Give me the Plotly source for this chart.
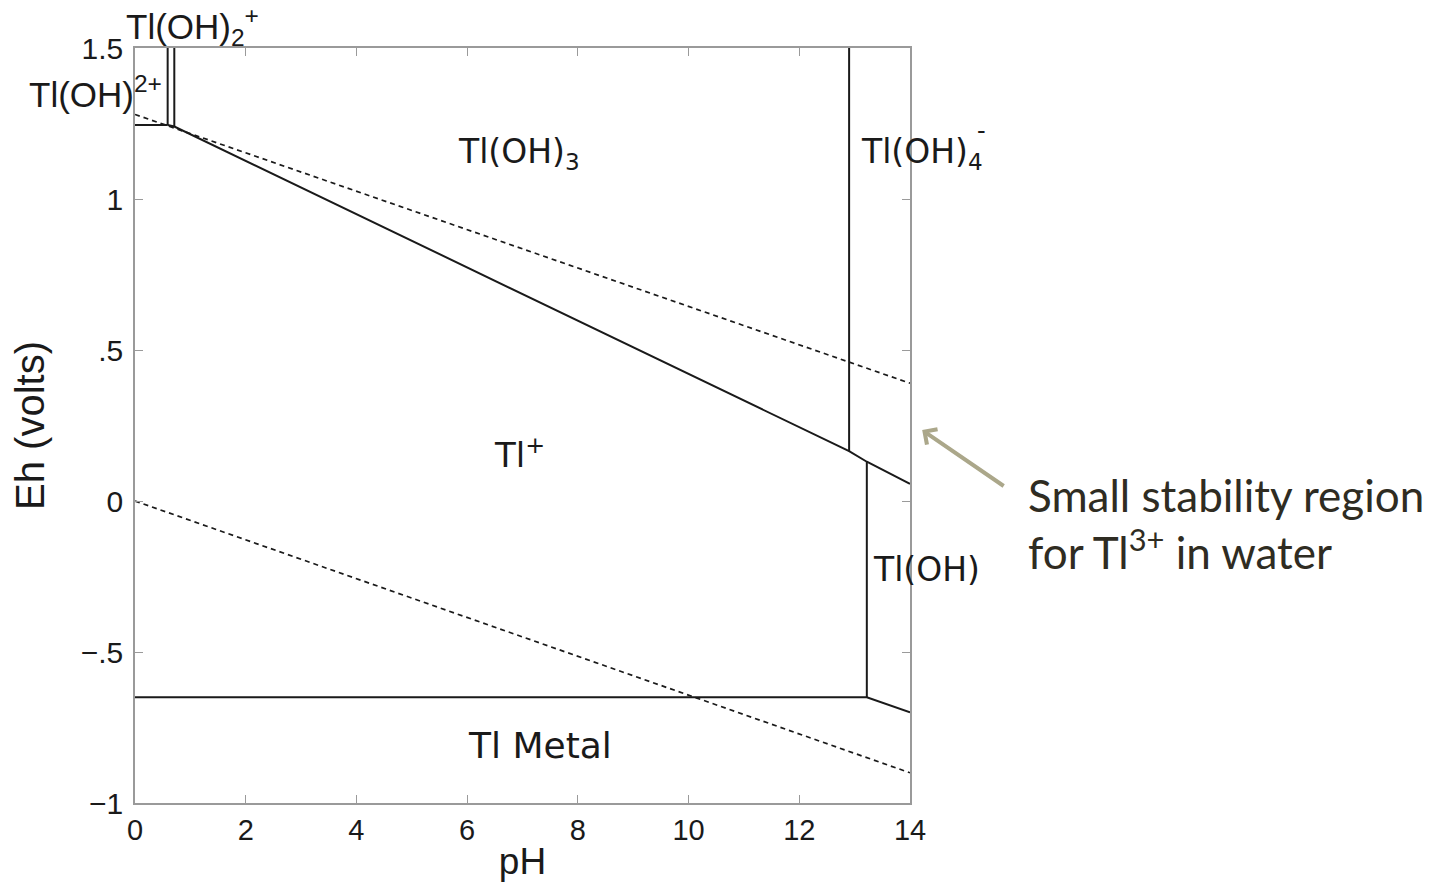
import plotly.graph_objects as go

# ---- data (pH, Eh in volts) ----
x_ticks = [0, 2, 4, 6, 8, 10, 12, 14]
y_ticks = [-1, -0.5, 0, 0.5, 1, 1.5]
y_ticktext = ["\u22121", "\u2212.5", "0", ".5", "1", "1.5"]

# solid stability boundaries
top_h_ph = [0, 0.59]
top_h_eh = [1.245, 1.245]
v1_ph = [0.59, 0.59]
v1_eh = [1.5, 1.245]
v2_ph = [0.71, 0.71]
v2_eh = [1.5, 1.24]
main_ph = [0.59, 0.71, 12.9, 13.22, 14]
main_eh = [1.245, 1.24, 0.165, 0.13, 0.057]
v3_ph = [12.9, 12.9]
v3_eh = [1.5, 0.165]
v4_ph = [13.22, 13.22]
v4_eh = [0.13, -0.65]
metal_ph = [0, 13.22, 14]
metal_eh = [-0.65, -0.65, -0.70]

# water stability (dashed)
o2_ph = [0, 14]
o2_eh = [1.28, 0.39]
h2_ph = [0, 14]
h2_eh = [0.0, -0.9]

X_RANGE = [0, 14]
Y_RANGE = [-1, 1.5]

fig = go.Figure()

solid = [(top_h_ph, top_h_eh), (v1_ph, v1_eh), (v2_ph, v2_eh), (main_ph, main_eh),
         (v3_ph, v3_eh), (v4_ph, v4_eh), (metal_ph, metal_eh)]
for xs, ys in solid:
    fig.add_trace(go.Scatter(x=xs, y=ys, mode="lines",
                             line=dict(color="#1a1a1a", width=2),
                             showlegend=False, hoverinfo="skip"))
for xs, ys in [(o2_ph, o2_eh), (h2_ph, h2_eh)]:
    fig.add_trace(go.Scatter(x=xs, y=ys, mode="lines",
                             line=dict(color="#1a1a1a", width=1.7, dash="5px,4px"),
                             showlegend=False, hoverinfo="skip"))

def px(ph):
    return (ph - X_RANGE[0]) / (X_RANGE[1] - X_RANGE[0])

def py(eh):
    return (eh - Y_RANGE[0]) / (Y_RANGE[1] - Y_RANGE[0])

helv = "Liberation Sans, Arial, sans-serif"
deja = "DejaVu Sans, Verdana, sans-serif"
ann = []
def lab(text, x, y, font, size, xanchor="center", color="#1a1a1a"):
    ann.append(dict(text=text, x=px(x), y=py(y), xref="paper", yref="paper", showarrow=False,
                    xanchor=xanchor, yanchor="middle",
                    font=dict(family=font, size=size, color=color)))

lab("Tl(OH)<sub>2</sub><sup>+</sup>", -0.2, 1.57, helv, 35, "left")
lab("Tl(OH)<sup>2+</sup>", -1.95, 1.355, helv, 35, "left")
lab("Tl(OH)<sub>3</sub>", 6.94, 1.15, deja, 33)
lab("Tl(OH)<sub>4</sub>", 13.08, 1.15, deja, 33, "left")
lab("-", 15.3, 1.225, deja, 24, "center")
lab("Tl(OH)", 13.3, -0.228, deja, 33, "left")
lab("Tl<sup>+</sup>", 6.94, 0.16, deja, 34)
lab("Tl Metal", 7.32, -0.808, deja, 36)

ann.append(dict(text="Small stability region<br>for Tl<sup>3+</sup> in water",
                x=px(16.1), y=py(-0.076), xref="paper", yref="paper", showarrow=False,
                xanchor="left", yanchor="middle", align="left",
                font=dict(family="Lato, Open Sans, sans-serif", size=44, color="#2f2c22")))
ann.append(dict(text="", x=px(14.22), y=py(0.235), xref="paper", yref="paper",
                showarrow=True, ax=83, ay=57, arrowhead=4, arrowsize=0.9,
                arrowwidth=4, arrowcolor="#aba78a"))

fig.update_layout(
    width=1431, height=880,
    margin=dict(l=127, r=529, t=40, b=85, autoexpand=False),
    paper_bgcolor="white", plot_bgcolor="white",
    showlegend=False,
    annotations=ann,
    xaxis=dict(range=X_RANGE, tickvals=x_ticks, showgrid=False, zeroline=False,
               showline=True, linecolor="#9a9a9a", linewidth=1.5, mirror="ticks",
               ticks="inside", ticklen=8, tickcolor="#9a9a9a", tickwidth=1,
               tickfont=dict(family=helv, size=29, color="#1a1a1a"),
               title=dict(text="pH", font=dict(family=helv, size=37, color="#1a1a1a"), standoff=4)),
    yaxis=dict(range=Y_RANGE, tickvals=y_ticks, ticktext=y_ticktext,
               showgrid=False, zeroline=False,
               showline=True, linecolor="#9a9a9a", linewidth=1.5, mirror="ticks",
               ticks="inside", ticklen=8, tickcolor="#9a9a9a", tickwidth=1,
               ticklabelstandoff=4,
               tickfont=dict(family=helv, size=30, color="#1a1a1a"),
               title=dict(text="Eh (volts)", font=dict(family=helv, size=40, color="#1a1a1a"), standoff=26)),
)

fig.write_html("out.html")
